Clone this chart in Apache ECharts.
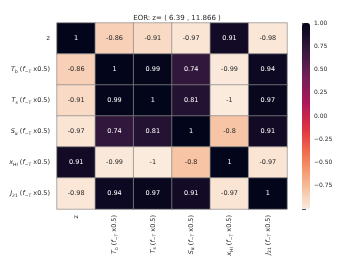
<!DOCTYPE html>
<html><head><meta charset="utf-8">
<script src="https://cdn.jsdelivr.net/npm/echarts@6/dist/echarts.min.js"></script>
<style>html,body{margin:0;padding:0;background:#fff}#c{width:349px;height:270px}</style>
</head><body><div id="c"></div>
<script>
var titleText = 'EOR: z= ( 6.39 , 11.866 )';
var yLabels = [
  'z',
  '{i|T}{s|b} ({i|f}{s|−T} x0.5)',
  '{i|T}{s|s} ({i|f}{s|−T} x0.5)',
  '{i|S}{s|α} ({i|f}{s|−T} x0.5)',
  '{i|x}{s|HI} ({i|f}{s|−T} x0.5)',
  '{i|J}{s|21} ({i|f}{s|−T} x0.5)'
];
var xLabels = yLabels;
var rowZ    = [1, -0.86, -0.91, -0.97, 0.91, -0.98];
var rowTb   = [-0.86, 1, 0.99, 0.74, -0.99, 0.94];
var rowTs   = [-0.91, 0.99, 1, 0.81, -1, 0.97];
var rowSa   = [-0.97, 0.74, 0.81, 1, -0.8, 0.91];
var rowXHI  = [0.91, -0.99, -1, -0.8, 1, -0.97];
var rowJ21  = [-0.98, 0.94, 0.97, 0.91, -0.97, 1];
var rows = [rowZ, rowTb, rowTs, rowSa, rowXHI, rowJ21];
var cbTicks = [-1, -0.75, -0.5, -0.25, 0, 0.25, 0.5, 0.75, 1];

var data = [];
rows.forEach(function (r, yi) {
  r.forEach(function (v, xi) {
    data.push({value: [xi, yi, v], label: {color: v > 0 ? '#ffffff' : '#262626'}});
  });
});

var rich = {
  i: {fontStyle: 'italic', fontSize: 6.5, color: '#262626', fontFamily: 'DejaVu Sans'},
  s: {fontSize: 4.5, color: '#262626', padding: [4, 0, 0, 0], fontFamily: 'DejaVu Sans'}
};

var chart = echarts.init(document.getElementById('c'), null, {renderer: 'canvas'});
chart.setOption({
  animation: false,
  backgroundColor: '#fff',
  textStyle: {fontFamily: 'DejaVu Sans'},
  title: {
    text: titleText, left: 172, top: 10, textAlign: 'center',
    textStyle: {fontSize: 7, fontWeight: 'normal', color: '#262626', fontFamily: 'DejaVu Sans'}
  },
  grid: [
    {left: 57, top: 23, width: 230, height: 186},
    {left: 302, top: 23, width: 8, height: 186}
  ],
  xAxis: [
    {type: 'category', data: xLabels, gridIndex: 0, position: 'bottom',
     axisLine: {show: false}, axisTick: {show: false}, splitLine: {show: false},
     axisLabel: {rotate: 90, fontSize: 6.5, color: '#262626', margin: 6, rich: rich, interval: 0}},
    {type: 'value', gridIndex: 1, show: false, min: 0, max: 1}
  ],
  yAxis: [
    {type: 'category', data: yLabels, gridIndex: 0, inverse: true,
     axisLine: {show: false}, axisTick: {show: false}, splitLine: {show: false},
     axisLabel: {fontSize: 6.5, color: '#262626', margin: 7, rich: rich, interval: 0}},
    {type: 'value', gridIndex: 1, min: -1, max: 1, interval: 0.25, position: 'right',
     axisLine: {show: false}, splitLine: {show: false},
     axisTick: {show: true, length: 4, lineStyle: {color: '#262626', width: 0.8}},
     axisLabel: {fontSize: 6, color: '#262626', margin: 4,
       formatter: function (v) { if (v <= -1) return ''; return (v < 0 ? '\u2212' : '') + Math.abs(v).toFixed(2); }}}
  ],
  visualMap: {
    type: 'continuous', min: -1, max: 1, calculable: false, show: true,
    seriesIndex: 0, orient: 'vertical', left: 302, top: 23, itemWidth: 8, itemHeight: 186,
    padding: 0, text: null, showLabel: false, hoverLink: false,
    inRange: {color: ['#faebdd', '#f6b48f', '#f37651', '#e13342', '#ad1759', '#701f57', '#35193e', '#03051a']}
  },
  series: [
    {type: 'heatmap', xAxisIndex: 0, yAxisIndex: 0, data: data,
     itemStyle: {borderColor: '#8a8a8a', borderWidth: 0.7},
     label: {show: true, fontSize: 6.5, fontFamily: 'DejaVu Sans',
       formatter: function (p) { return String(p.value[2]); }}},
    {type: 'line', xAxisIndex: 1, yAxisIndex: 1, data: [], silent: true}
  ]
});
</script></body></html>
